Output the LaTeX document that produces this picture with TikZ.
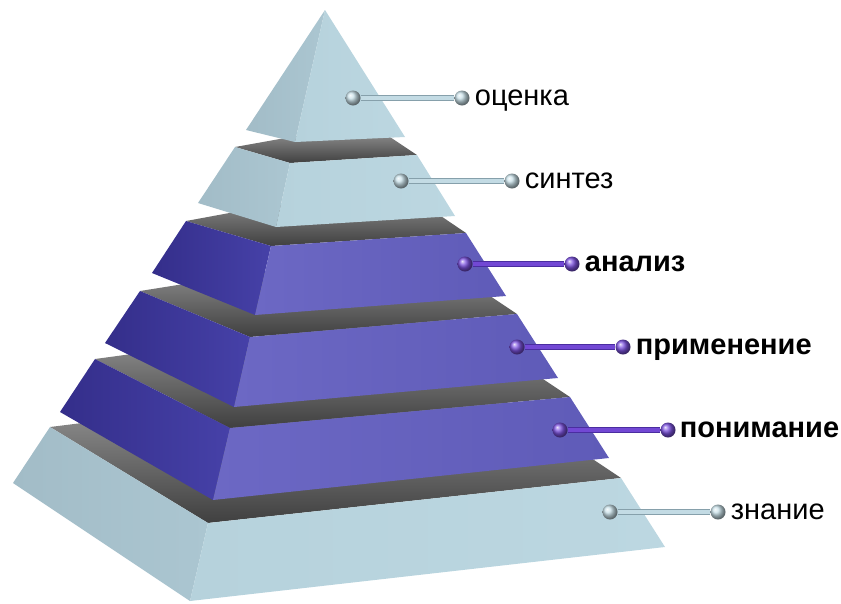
\documentclass[tikz,border=0pt]{standalone}
\usepackage{fontspec}
\setmainfont{Liberation Sans}
\usetikzlibrary{positioning}
\definecolor{paleleftA}{HTML}{A2BCC7}
\definecolor{paleleftB}{HTML}{ABC6D1}
\definecolor{palefrontA}{HTML}{B6D2DC}
\definecolor{palefrontB}{HTML}{BCD7E1}
\definecolor{violetleftA}{HTML}{342E8A}
\definecolor{violetleftB}{HTML}{4641A8}
\definecolor{violetfrontA}{HTML}{6C68C4}
\definecolor{violetfrontB}{HTML}{5F5BB8}
\definecolor{paleedge}{HTML}{86A0AB}
\definecolor{palecore}{HTML}{C3DBE4}
\definecolor{paleballc}{HTML}{C8E0E8}
\definecolor{violetedge}{HTML}{4A2DA0}
\definecolor{violetcore}{HTML}{7248D4}
\definecolor{violetballc}{HTML}{7C52E0}

\begin{document}
\begin{tikzpicture}[
    x=1pt, y=-1pt,
    ball/.style={circle, inner sep=0pt, minimum size=15pt, shading=ball},
    paleball/.style={ball, ball color=paleballc},
    violetball/.style={ball, ball color=violetballc},
    palerod/.style={draw=paleedge, line width=1.4pt, double=palecore, double distance=3.2pt},
    violetrod/.style={draw=violetedge, line width=1.4pt, double=violetcore, double distance=3.2pt},
    lbl/.style={inner sep=0pt, font=\fontsize{29}{34}\selectfont, text height=15pt, text depth=0pt},
    topface/.style={top color=black!35, bottom color=black!75},
    paleleft/.style={left color=paleleftA, right color=paleleftB},
    palefront/.style={left color=palefrontA, right color=palefrontB},
    violetleft/.style={left color=violetleftA, right color=violetleftB},
    violetfront/.style={left color=violetfrontA, right color=violetfrontB}
]
    \useasboundingbox (0,0) rectangle (841,603);

    % --- Layer 6 (bottom, pale) ---
    \shade[topface] (50,427) -- (208,523) -- (621,478) -- (467,375) -- cycle;
    \shade[paleleft] (13,483) -- (190,601) -- (208,523) -- (50,427) -- cycle;
    \shade[palefront] (190,601) -- (665,547) -- (621,478) -- (208,523) -- cycle;

    % --- Layer 5 (violet) ---
    \shade[topface] (95,359) -- (230,428) -- (570,397) -- (442,312) -- cycle;
    \shade[violetleft] (60,412) -- (213,500) -- (230,428) -- (95,359) -- cycle;
    \shade[violetfront] (213,500) -- (609,458) -- (570,397) -- (230,428) -- cycle;

    % --- Layer 4 (violet) ---
    \shade[topface] (140,291) -- (250,337) -- (517,314) -- (417,247) -- cycle;
    \shade[violetleft] (105,343) -- (234,407) -- (250,337) -- (140,291) -- cycle;
    \shade[violetfront] (234,407) -- (558,378) -- (517,314) -- (250,337) -- cycle;

    % --- Layer 3 (violet) ---
    \shade[topface] (186,221) -- (271,246) -- (466,233) -- (392,183) -- cycle;
    \shade[violetleft] (152,273) -- (255,315) -- (271,246) -- (186,221) -- cycle;
    \shade[violetfront] (255,315) -- (506,296) -- (466,233) -- (271,246) -- cycle;

    % --- Layer 2 (pale) ---
    \shade[topface] (235,147) -- (290,163) -- (417,155) -- (369,123) -- cycle;
    \shade[paleleft] (198,203) -- (276,227) -- (290,163) -- (235,147) -- cycle;
    \shade[palefront] (276,227) -- (455,216) -- (417,155) -- (290,163) -- cycle;

    % --- Layer 1 (apex, pale) ---
    \shade[paleleft] (246,130) -- (295,142) -- (325,10) -- cycle;
    \shade[palefront] (295,142) -- (405,137) -- (325,10) -- cycle;

    % --- Pins and labels ---
    \node[paleball] (o1) at (353,98) {};
    \node[paleball] (o2) at (462,98) {};
    \draw[palerod] (o1) -- (o2);
    \node[lbl, right=5pt of o2] (tO) {оценка};

    \node[paleball] (s1) at (401,181) {};
    \node[paleball] (s2) at (512,181) {};
    \draw[palerod] (s1) -- (s2);
    \node[lbl, right=5pt of s2] (tS) {синтез};

    \node[violetball] (a1) at (465,264) {};
    \node[violetball] (a2) at (572,264) {};
    \draw[violetrod] (a1) -- (a2);
    \node[lbl, font=\fontsize{29}{34}\selectfont\bfseries, right=5pt of a2] (tA) {анализ};

    \node[violetball] (p1) at (517,347) {};
    \node[violetball] (p2) at (623,347) {};
    \draw[violetrod] (p1) -- (p2);
    \node[lbl, font=\fontsize{29}{34}\selectfont\bfseries, right=5pt of p2] (tP) {применение};

    \node[violetball] (u1) at (560,430) {};
    \node[violetball] (u2) at (668,430) {};
    \draw[violetrod] (u1) -- (u2);
    \node[lbl, font=\fontsize{29}{34}\selectfont\bfseries, right=4pt of u2] (tU) {понимание};

    \node[paleball] (z1) at (610,512) {};
    \node[paleball] (z2) at (718,512) {};
    \draw[palerod] (z1) -- (z2);
    \node[lbl, right=5pt of z2] (tZ) {знание};
\end{tikzpicture}
\end{document}
